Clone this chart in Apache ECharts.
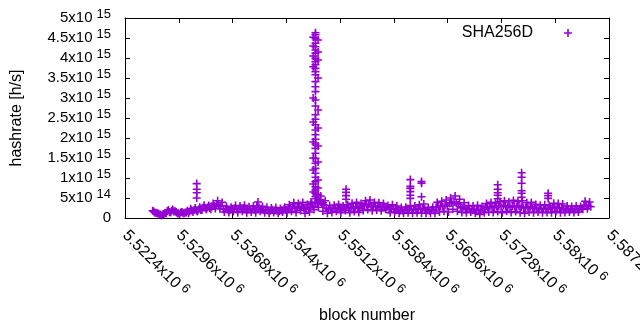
<!DOCTYPE html>
<html><head><meta charset="utf-8">
<script src="https://cdn.jsdelivr.net/npm/echarts@6/dist/echarts.min.js"></script>
<style>html,body{margin:0;padding:0;background:#fff}#c{width:640px;height:330px}</style>
</head><body><div id="c"></div>
<script>
// ---- data ----
const seriesName = 'SHA256D';
const xTickMantissas = ['5.5224','5.5296','5.5368','5.544','5.5512','5.5584','5.5656','5.5728','5.58','5.5872'];
const xTickExp = '6';
const yTickMantissas = ['0','5','1','1.5','2','2.5','3','3.5','4','4.5','5'];
const yTickExps = ['','14','15','15','15','15','15','15','15','15','15'];
const valueUnit = 1e13; // hashrate values below are in units of 1e13 h/s
// main band, sampled every 300 blocks starting at block 5526100 (A) and 5526250 (B)
const bandStartBlockA = 5526100;
const bandStartBlockB = 5526250;
const bandStepBlocks = 300;
const bandValuesA = [
  18,13,12,9,6,10,12,20,14,21,
  17,12,10,15,11,14,12,23,15,25,
  16,27,20,32,21,31,22,36,24,43,
  23,39,15,29,14,27,16,31,14,30,
  17,32,13,28,15,30,13,40,17,29,
  13,27,12,25,14,26,12,24,15,27,
  13,33,17,38,14,36,19,39,12,34,
  15,37,21,48,27,55,17,43,12,31,
  14,32,17,34,13,30,19,33,13,37,
  16,39,14,36,19,43,21,45,18,39,
  20,38,18,36,22,31,13,33,15,30,
  12,26,12,27,13,31,12,30,13,33,
  12,35,12,26,12,27,12,39,15,42,
  17,45,15,50,22,55,17,47,14,38,
  13,31,15,30,12,32,9,29,13,36,
  15,39,14,37,16,41,13,43,17,40,
  14,44,16,41,13,43,12,38,15,39,
  13,34,15,32,13,33,14,31,13,37,
  16,36,13,35,14,30,15,29,14,30,
  15,29,22,42,23,40
];
const bandValuesB = [
  16,13,11,9,9,12,17,15,18,16,
  15,12,14,13,14,18,16,19,20,19,
  21,20,26,25,26,25,29,30,34,31,
  30,22,23,21,20,22,24,22,23,24,
  25,22,21,22,23,20,30,26,22,20,
  20,19,18,20,19,18,17,19,21,20,
  24,26,28,25,26,28,29,25,24,22,
  27,30,36,38,42,35,32,25,21,23,
  24,25,26,23,22,25,26,23,27,26,
  28,26,25,30,32,33,35,30,28,29,
  30,27,26,29,27,22,24,23,22,20,
  19,18,20,21,22,20,21,22,24,22,
  24,22,19,18,20,19,26,28,30,29,
  32,30,36,38,40,37,33,28,26,24,
  22,23,21,22,20,18,19,22,25,27,
  28,26,27,29,30,28,31,30,28,27,
  30,29,28,30,27,25,26,27,28,26,
  24,23,22,24,23,22,23,25,26,27,
  26,25,24,22,21,22,21,22,21,22,
  22,24,31,32,30,28
];
// spike and outlier measurements (block number, hashrate in 1e13 h/s)
const spikeBlocks = [
  5547900,5547900,5547900,5547900,5547900,5547900,5547900,5547900,5547900,5547900,
  5547900,5547900,5547900,5547900,5547900,5547900,5547900,5547900,5547900,5547900,
  5547900,5547900,5547900,5547900,5547900,5547900,5547900,5547900,5547900,5547900,
  5547900,5547900,5547900,5547900,5547900,5547900,5547900,
  5547600,5547600,5547600,5547600,5547600,5547600,5547600,5547600,5547600,5547600,5547600,
  5548250,5548250,5548250,5548250,5548250,5548250,5548250,5548250,5548250,5548250,5548250,
  5547300,5548600,5548900
];
const spikeValues = [
  463,458,449,437,428,420,412,399,391,383,
  374,366,358,341,328,316,295,280,258,247,
  233,220,208,197,185,174,162,149,137,124,
  112,102,91,78,70,62,53,
  452,430,405,378,300,240,190,150,120,85,65,
  445,415,395,350,270,225,180,140,95,75,58,
  40,45,38
];
const outlierBlocks = [
  5532000,5532000,5532000,5532000,
  5552000,5552000,5552000,5552000,
  5560600,5560600,5560600,5560600,5560600,5560600,
  5562100,5562100,5562100,
  5572300,5572300,5572300,5572300,5572300,
  5575500,5575500,5575500,5575500,5575500,5575500,
  5579050,5579050,5579050
];
const outlierValues = [
  86,72,63,50,
  72,64,56,47,
  96,79,74,66,57,49,
  91,87,53,
  83,72,63,57,48,
  113,102,87,68,62,52,
  62,56,49
];

// ---- chart ----
const FONT = '"Liberation Sans", Arial, sans-serif';
const COLOR = '#9400d3';
const PLUS = 'path://M3.2,0h1.6v3.2h3.2v1.6h-3.2v3.2h-1.6v-3.2h-3.2v-1.6h3.2z';
const X_MIN = 5522400, X_MAX = 5587200, X_INT = 7200;
const Y_MIN = 0, Y_MAX = 5e15, Y_INT = 5e14;

const points = [];
bandValuesA.forEach((v, i) => points.push([bandStartBlockA + i * bandStepBlocks, v * valueUnit]));
bandValuesB.forEach((v, i) => points.push([bandStartBlockB + i * bandStepBlocks, v * valueUnit]));
spikeBlocks.forEach((b, i) => points.push([b, spikeValues[i] * valueUnit]));
outlierBlocks.forEach((b, i) => points.push([b, outlierValues[i] * valueUnit]));

const richY = {
  m: {fontSize: 15, lineHeight: 20, fontFamily: FONT, color: '#000'},
  e: {fontSize: 13, lineHeight: 13, verticalAlign: 'top', fontFamily: FONT, color: '#000', padding: [0, 0, 0, 4]}
};
const richX = {
  m: {fontSize: 16, lineHeight: 20, fontFamily: FONT, color: '#000'},
  e: {fontSize: 13, lineHeight: 13, verticalAlign: 'top', fontFamily: FONT, color: '#000', padding: [0, 0, 0, 4]}
};
const axisLine = {show: true, onZero: false, lineStyle: {color: '#000', width: 1}};
const axisTick = {show: true, inside: true, length: 5, lineStyle: {color: '#000', width: 1}};

const chart = echarts.init(document.getElementById('c'), null, {renderer: 'canvas'});
chart.setOption({
  animation: false,
  backgroundColor: '#fff',
  textStyle: {fontFamily: FONT},
  grid: {left: 125, right: 31, top: 18, bottom: 112, containLabel: false, outerBoundsMode: 'none'},
  legend: {
    data: [{name: seriesName, icon: PLUS}],
    align: 'right', right: 63, top: 20, itemWidth: 8, itemHeight: 8,
    textStyle: {fontSize: 16, fontFamily: FONT, color: '#000', padding: [0, 26, 0, 0]},
    selectedMode: false
  },
  xAxis: [{
    type: 'value', min: X_MIN, max: X_MAX, interval: X_INT, position: 'bottom',
    axisLine, axisTick, splitLine: {show: false},
    axisLabel: {
      rotate: -45, margin: 15, showMinLabel: true, showMaxLabel: true, hideOverlap: false,
      formatter: v => { const i = Math.round((v - X_MIN) / X_INT); return '{m|' + xTickMantissas[i] + 'x10}{e|' + xTickExp + '}'; },
      rich: richX
    },
    name: 'block number', nameLocation: 'middle', nameGap: 90,
    nameTextStyle: {fontSize: 16, fontFamily: FONT, color: '#000'}
  }, {
    type: 'value', min: X_MIN, max: X_MAX, interval: X_INT, position: 'top',
    axisLine, axisTick, splitLine: {show: false}, axisLabel: {show: false}
  }],
  yAxis: [{
    type: 'value', min: Y_MIN, max: Y_MAX, interval: Y_INT, position: 'left',
    axisLine, axisTick, splitLine: {show: false},
    axisLabel: {
      margin: 14, showMinLabel: true, showMaxLabel: true, hideOverlap: false,
      formatter: v => { const i = Math.round(v / Y_INT); return yTickExps[i] ? '{m|' + yTickMantissas[i] + 'x10}{e|' + yTickExps[i] + '}' : '{m|' + yTickMantissas[i] + '}'; },
      rich: richY
    },
    name: 'hashrate [h/s]', nameLocation: 'middle', nameGap: 100,
    nameTextStyle: {fontSize: 16, fontFamily: FONT, color: '#000'}
  }, {
    type: 'value', min: Y_MIN, max: Y_MAX, interval: Y_INT, position: 'right',
    axisLine, axisTick, splitLine: {show: false}, axisLabel: {show: false}
  }],
  series: [{
    name: seriesName, type: 'scatter', xAxisIndex: 0, yAxisIndex: 0,
    symbol: PLUS, symbolSize: 8, large: false,
    itemStyle: {color: COLOR, opacity: 1},
    emphasis: {disabled: true},
    data: points
  }]
});
</script>
</body></html>
